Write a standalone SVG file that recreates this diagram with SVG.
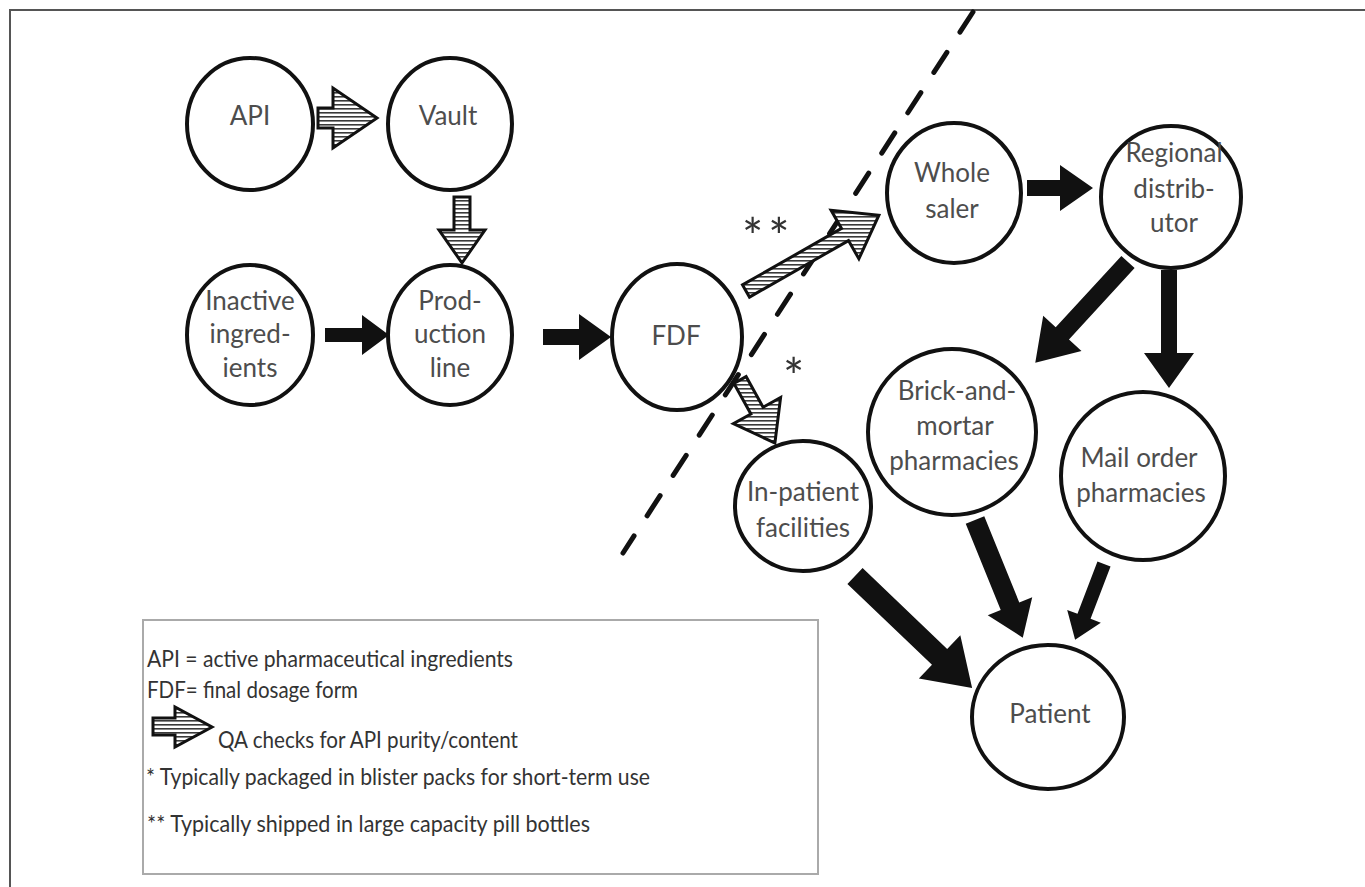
<svg xmlns="http://www.w3.org/2000/svg" width="1365" height="887" viewBox="0 0 1365 887">
<defs>
<pattern id="hatch" patternUnits="userSpaceOnUse" width="4" height="4">
<rect width="4" height="4" fill="#ffffff"/>
<rect y="0" width="4" height="1.6" fill="#3a3a3a"/>
</pattern>
<style>
.node{fill:#ffffff;stroke:#111;stroke-width:4}
.lbl{font-family:Lato,"Liberation Sans",sans-serif;font-size:26px;fill:#4d4d4d;text-anchor:middle}
.leg{font-family:Lato,"Liberation Sans",sans-serif;font-size:23px;fill:#333}
.star{font-family:Lato,"Liberation Sans",sans-serif;font-size:50px;fill:#333}
.solid{fill:#111;stroke:none}
.hatched{fill:url(#hatch);stroke:#111;stroke-width:3;stroke-linejoin:miter}
</style>
</defs>
<rect width="1365" height="887" fill="#ffffff"/>
<g id="frame" stroke="#555" stroke-width="2" fill="none">
<line x1="9" y1="10" x2="1365" y2="10"/>
<line x1="10" y1="10" x2="10" y2="887"/>
</g>
<line id="divider" x1="973" y1="12" x2="623" y2="553" stroke="#111" stroke-width="5" stroke-linecap="round" stroke-dasharray="24 24"/>
<g id="connectors">
<polygon class="hatched" points="318,108 333,108 333,88 377,118 333,148 333,128 318,128"/>
<polygon class="hatched" points="470,197 470,230 485,230 462,263 439,230 454,230 454,197"/>
<polygon class="hatched" points="742.5,284.9 841.5,228.4 831.1,210.2 878.9,215.2 858.9,258.8 848.5,240.6 749.5,297.1"/>
<polygon class="hatched" points="746.1,376.6 763.1,407.2 780.6,397.5 774.9,443 733.4,423.7 750.9,414 733.9,383.4"/>
<polygon class="solid" transform="translate(325,335)" points="0,-7 37,-7 37,-20 64,0 37,20 37,7 0,7"/>
<polygon class="solid" transform="translate(543,337)" points="0,-8 36,-8 36,-23 68,0 36,23 36,8 0,8"/>
<polygon class="solid" transform="translate(1027,188)" points="0,-8 33,-8 33,-23 66,0 33,23 33,8 0,8"/>
<polygon class="solid" transform="translate(1128,262) rotate(132.6)" points="0,-9 97,-9 97,-26 137,0 97,26 97,9 0,9"/>
<polygon class="solid" transform="translate(1169,270) rotate(90)" points="0,-8 83,-8 83,-25 118,0 83,25 83,8 0,8"/>
<polygon class="solid" transform="translate(855,576) rotate(43.7)" points="0,-11 117,-11 117,-30 162,0 117,30 117,11 0,11"/>
<polygon class="solid" transform="translate(975,520) rotate(67.9)" points="0,-10 93,-10 93,-24 127,0 93,24 93,10 0,10"/>
<polygon class="solid" transform="translate(1104,564) rotate(110.9)" points="0,-7 56,-7 56,-18 81,0 56,18 56,7 0,7"/>
</g>
<text class="star" x="742" y="255" letter-spacing="5">**</text>
<text class="star" x="783" y="395">*</text>
<g id="api"><ellipse class="node" cx="250" cy="124" rx="63" ry="66"/><text class="lbl" x="250" y="125">API</text></g>
<g id="vault"><ellipse class="node" cx="450" cy="124" rx="62" ry="66"/><text class="lbl" x="448" y="125">Vault</text></g>
<g id="inactive"><ellipse class="node" cx="250" cy="335" rx="63" ry="70"/><text class="lbl" x="250" y="310">Inactive</text><text class="lbl" x="250" y="343">ingred-</text><text class="lbl" x="250" y="377">ients</text></g>
<g id="production"><ellipse class="node" cx="450" cy="335" rx="62" ry="70"/><text class="lbl" x="450" y="310">Prod-</text><text class="lbl" x="450" y="343">uction</text><text class="lbl" x="450" y="377">line</text></g>
<g id="fdf"><ellipse class="node" cx="677" cy="337" rx="65" ry="73"/><text class="lbl" x="676" y="345">FDF</text></g>
<g id="wholesaler"><ellipse class="node" cx="954" cy="193" rx="67" ry="70"/><text class="lbl" x="952" y="182">Whole</text><text class="lbl" x="952" y="218">saler</text></g>
<g id="regional"><ellipse class="node" cx="1171" cy="197" rx="70" ry="71"/><text class="lbl" x="1174" y="162">Regional</text><text class="lbl" x="1174" y="198">distrib-</text><text class="lbl" x="1174" y="232">utor</text></g>
<g id="brick"><ellipse class="node" cx="952" cy="432" rx="84" ry="83"/><text class="lbl" x="957" y="400">Brick-and-</text><text class="lbl" x="955" y="435">mortar</text><text class="lbl" x="954" y="470">pharmacies</text></g>
<g id="mail"><ellipse class="node" cx="1143" cy="476" rx="82" ry="84"/><text class="lbl" x="1139" y="467">Mail order</text><text class="lbl" x="1141" y="502">pharmacies</text></g>
<g id="inpatient"><ellipse class="node" cx="803" cy="506" rx="68" ry="65"/><text class="lbl" x="803" y="501">In-patient</text><text class="lbl" x="803" y="537">facilities</text></g>
<g id="patient"><ellipse class="node" cx="1048" cy="717" rx="76" ry="72"/><text class="lbl" x="1050" y="723">Patient</text></g>
<g id="legend">
<rect x="143" y="620" width="675" height="254" fill="#ffffff" stroke="#aaa" stroke-width="2"/>
<text class="leg" x="147" y="667" textLength="366" lengthAdjust="spacingAndGlyphs">API = active pharmaceutical ingredients</text>
<text class="leg" x="147" y="698" textLength="211" lengthAdjust="spacingAndGlyphs">FDF= final dosage form</text>
<polygon class="hatched" points="153,718 175,718 175,707 212,727 175,747 175,735 153,735"/>
<text class="leg" x="218" y="748" textLength="300" lengthAdjust="spacingAndGlyphs">QA checks for API purity/content</text>
<text class="leg" x="146" y="785" textLength="504" lengthAdjust="spacingAndGlyphs">* Typically packaged in blister packs for short-term  use</text>
<text class="leg" x="147" y="832" textLength="443" lengthAdjust="spacingAndGlyphs">** Typically shipped  in large capacity pill bottles</text>
</g>
</svg>
